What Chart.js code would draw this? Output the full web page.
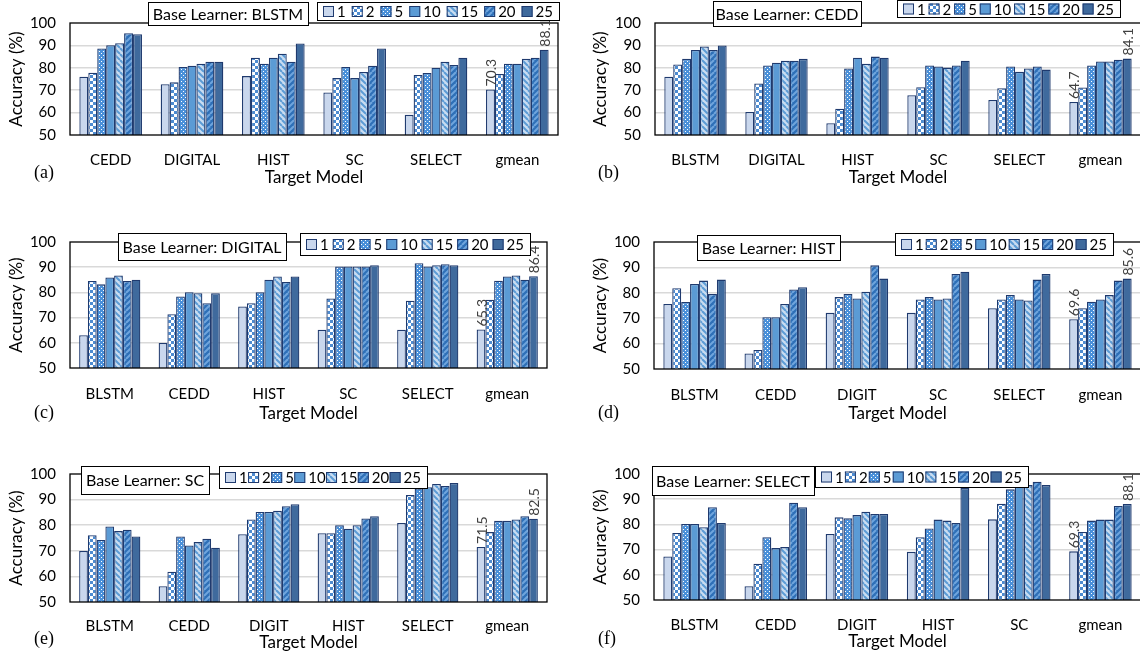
<!DOCTYPE html>
<html>
<head>
<meta charset="utf-8">
<script src="https://cdn.jsdelivr.net/npm/chart.js@4.4.1/dist/chart.umd.min.js"></script>
<style>
  body { margin: 0; width: 1140px; height: 655px; overflow: hidden; background: #fff; position: relative; }
  canvas { position: absolute; }
  .tag { position: absolute; font-family: "Liberation Serif", serif; font-size: 18px; color: #000; line-height: 20px; }
</style>
</head>
<body>
<canvas id="ca"></canvas><canvas id="cb"></canvas><canvas id="cc"></canvas>
<canvas id="cd"></canvas><canvas id="ce"></canvas><canvas id="cf"></canvas>
<div class="tag" style="left:34px;top:162px">(a)</div>
<div class="tag" style="left:598px;top:162px">(b)</div>
<div class="tag" style="left:34px;top:402px">(c)</div>
<div class="tag" style="left:598px;top:402px">(d)</div>
<div class="tag" style="left:34px;top:628px">(e)</div>
<div class="tag" style="left:598px;top:628px">(f)</div>
<script>
// ensemble sizes (one bar each)
const sizes = ["1", "2", "5", "10", "15", "20", "25"];

// each row = one target model, values for sizes 1..25
const catsA = ["CEDD", "DIGITAL", "HIST", "SC", "SELECT", "gmean"];
const accA = [
    [76.0, 77.8, 88.6, 90.1, 91.0, 95.4, 95.0],
    [72.7, 73.5, 80.4, 80.9, 81.8, 82.7, 82.7],
    [76.3, 84.5, 81.8, 84.5, 86.3, 82.7, 90.9],
    [69.0, 75.4, 80.4, 75.4, 78.1, 80.9, 88.6],
    [59.0, 76.8, 77.7, 80.0, 82.7, 81.3, 84.5],
    [70.3, 77.2, 81.8, 81.8, 84.0, 84.5, 88.1]
];

const catsB = ["BLSTM", "DIGITAL", "HIST", "SC", "SELECT", "gmean"];
const accB = [
    [76.0, 81.5, 84.0, 88.0, 89.5, 88.0, 90.0],
    [60.3, 73.0, 81.0, 82.3, 83.2, 83.2, 84.0],
    [55.3, 61.7, 79.7, 84.5, 81.8, 85.0, 84.5],
    [67.8, 71.3, 81.0, 80.6, 80.1, 81.0, 83.2],
    [65.6, 70.9, 80.6, 78.2, 79.7, 80.6, 79.2],
    [64.7, 71.2, 81.0, 82.8, 82.8, 83.6, 84.1]
];

const catsC = ["BLSTM", "CEDD", "HIST", "SC", "SELECT", "gmean"];
const accC = [
    [63.0, 84.5, 83.2, 85.9, 86.7, 84.5, 85.0],
    [59.9, 71.3, 78.4, 80.1, 79.7, 75.7, 79.7],
    [74.4, 75.7, 80.1, 85.0, 86.3, 84.1, 86.3],
    [65.2, 77.6, 90.3, 90.3, 90.3, 90.3, 90.8],
    [65.2, 76.7, 91.6, 90.3, 90.8, 91.2, 90.8],
    [65.3, 77.1, 84.6, 86.3, 86.7, 85.0, 86.4]
];

const catsD = ["BLSTM", "CEDD", "DIGIT", "SC", "SELECT", "gmean"];
const accD = [
    [75.6, 81.8, 76.4, 83.5, 84.8, 79.5, 85.2],
    [56.1, 57.5, 70.4, 70.4, 75.6, 81.3, 82.2],
    [72.1, 78.3, 79.5, 77.8, 80.4, 90.8, 85.6],
    [72.1, 77.4, 78.3, 77.4, 77.8, 87.4, 88.3],
    [73.9, 77.4, 79.1, 77.4, 77.0, 85.2, 87.4],
    [69.6, 73.9, 76.5, 77.4, 79.1, 84.8, 85.6]
];

const catsE = ["BLSTM", "CEDD", "DIGIT", "HIST", "SELECT", "gmean"];
const accE = [
    [69.9, 76.1, 74.2, 79.5, 77.7, 78.2, 75.6],
    [56.2, 61.8, 75.6, 72.1, 73.4, 74.7, 71.2],
    [76.5, 82.2, 85.2, 85.2, 85.6, 87.4, 88.2],
    [76.9, 76.9, 80.0, 78.6, 80.0, 82.6, 83.5],
    [80.9, 91.8, 94.4, 94.8, 96.1, 95.3, 96.5],
    [71.5, 77.3, 81.7, 81.7, 82.2, 83.5, 82.5]
];

const catsF = ["BLSTM", "CEDD", "DIGIT", "HIST", "SC", "gmean"];
const accF = [
    [67.3, 76.6, 80.2, 80.2, 78.9, 86.8, 80.6],
    [55.5, 64.4, 74.9, 70.6, 71.0, 88.6, 86.8],
    [76.2, 82.8, 82.4, 83.7, 85.0, 84.1, 84.1],
    [69.1, 74.9, 78.4, 81.9, 81.5, 80.6, 94.4],
    [82.0, 88.2, 93.9, 95.6, 95.6, 96.9, 95.6],
    [69.3, 77.0, 81.5, 81.9, 81.9, 87.3, 88.1]
];

const yTicks = [50, 60, 70, 80, 90, 100];

// page layout: canvas box, plot area (left, right, top, bottom), label padding, title y, legend boxes
const panels = [
    { id: "ca", learner: "BLSTM", cats: catsA, acc: accA, box: [0, 0, 570, 190],
      area: [70, 558, 12, 135], labelPad: 8, titleY: 178, yTitleX: 17, bl: [148, 2, 160, 23], lg: [317, 2, 242, 18] },
    { id: "cb", learner: "CEDD", cats: catsB, acc: accB, box: [570, 0, 572, 190],
      area: [655, 1141, 9, 135], labelPad: 8, titleY: 178, yTitleX: 601, bl: [713, 1, 148, 25], lg: [897, 0, 223, 17] },
    { id: "cc", learner: "DIGITAL", cats: catsC, acc: accC, box: [0, 215, 570, 210],
      area: [70, 547, 242, 368], labelPad: 9, titleY: 414, yTitleX: 17, bl: [118, 233, 168, 27], lg: [300, 233, 230, 22] },
    { id: "cd", learner: "HIST", cats: catsD, acc: accD, box: [570, 215, 572, 210],
      area: [654, 1141, 242, 369], labelPad: 9, titleY: 414, yTitleX: 601, bl: [697, 235, 143, 25], lg: [895, 233, 218, 22] },
    { id: "ce", learner: "SC", cats: catsE, acc: accE, box: [0, 440, 570, 215],
      area: [70, 547, 474, 602], labelPad: 7, titleY: 643, yTitleX: 17, bl: [81, 466, 128, 28], lg: [219, 466, 208, 22] },
    { id: "cf", learner: "SELECT", cats: catsF, acc: accF, box: [570, 440, 572, 215],
      area: [654, 1141, 474, 600], labelPad: 8, titleY: 642, yTitleX: 601, bl: [652, 466, 162, 29], lg: [815, 466, 213, 21] }
];

function tile(size, draw) {
    const c = document.createElement("canvas");
    c.width = c.height = size;
    const g = c.getContext("2d");
    draw(g, size);
    return g.createPattern(c, "repeat");
}

function stripes(bg, fg, up) {
    return (g, s) => {
        g.fillStyle = bg;
        g.fillRect(0, 0, s, s);
        g.strokeStyle = fg;
        g.lineWidth = 2;
        for (let i = -s; i <= s; i += s) {
            g.beginPath();
            if (up) { g.moveTo(i, s); g.lineTo(i + s, 0); }
            else { g.moveTo(i, 0); g.lineTo(i + s, s); }
            g.stroke();
        }
    };
}

const fills = [
    "#c9d7ed",
    tile(6, (g, s) => {
        g.fillStyle = "#4d8bd0"; g.fillRect(0, 0, s, s);
        g.fillStyle = "#fff"; g.fillRect(0, 0, 3, 3); g.fillRect(3, 3, 3, 3);
    }),
    tile(4, (g, s) => {
        g.fillStyle = "#4a90d9"; g.fillRect(0, 0, s, s);
        g.fillStyle = "#fff"; g.fillRect(1, 1, 1, 1); g.fillRect(3, 3, 1, 1);
    }),
    "#5b9bd5",
    tile(6, stripes("#c9dcf1", "#5b9bd5", false)),
    tile(6, stripes("#2e6fb7", "#6fa5dd", true)),
    "#3f6a9d"
];
const edge = "#1f3a6e";

const frame = {
    id: "frame",
    afterDatasetsDraw(chart) {
        const a = chart.chartArea, ctx = chart.ctx;
        ctx.save();
        ctx.strokeStyle = "#000";
        ctx.lineWidth = 1.3;
        ctx.strokeRect(a.left, a.top, a.right - a.left, a.bottom - a.top);
        ctx.restore();
    }
};

// value labels on the first and last bar of the gmean group
const endLabels = {
    id: "endLabels",
    afterDatasetsDraw(chart) {
        const ctx = chart.ctx;
        const last = chart.data.labels.length - 1;
        [0, chart.data.datasets.length - 1].forEach(di => {
            const bar = chart.getDatasetMeta(di).data[last];
            const v = chart.data.datasets[di].data[last];
            ctx.save();
            ctx.translate(bar.x, bar.y - 3);
            ctx.rotate(-Math.PI / 2);
            ctx.font = "14px Lato";
            ctx.fillStyle = "#404040";
            ctx.textAlign = "left";
            ctx.textBaseline = "middle";
            ctx.fillText(v.toFixed(1), 0, 1);
            ctx.restore();
        });
    }
};

const boxes = {
    id: "boxes",
    afterDraw(chart, args, opts) {
        const ctx = chart.ctx;
        // base learner box
        let [x, y, w, h] = opts.bl;
        ctx.save();
        ctx.fillStyle = "#fff";
        ctx.fillRect(x, y, w, h);
        ctx.strokeStyle = "#000";
        ctx.lineWidth = 1;
        ctx.strokeRect(x + 0.5, y + 0.5, w, h);
        ctx.font = "16px Lato";
        ctx.fillStyle = "#000";
        ctx.textAlign = "center";
        ctx.textBaseline = "middle";
        ctx.fillText("Base Learner: " + opts.learner, x + w / 2, y + h / 2 + 1);

        // series legend
        [x, y, w, h] = opts.lg;
        ctx.font = "15px Lato";
        ctx.fillStyle = "#fff";
        ctx.fillRect(x, y, w, h);
        ctx.strokeRect(x + 0.5, y + 0.5, w, h);
        const ds = chart.data.datasets;
        const sw = 11, gap = 3, pad = 6;
        const widths = ds.map(d => sw + gap + ctx.measureText(d.label).width);
        const total = widths.reduce((s, v) => s + v, 0);
        const space = (w - 2 * pad - total) / (ds.length - 1);
        let cx = x + pad;
        const cy = y + h / 2 + 0.5;
        ctx.textAlign = "left";
        ds.forEach((d, i) => {
            ctx.fillStyle = d.backgroundColor;
            ctx.fillRect(cx, cy - sw / 2, sw, sw);
            ctx.strokeStyle = edge;
            ctx.strokeRect(cx + 0.5, cy - sw / 2 + 0.5, sw - 1, sw - 1);
            ctx.fillStyle = "#000";
            ctx.fillText(d.label, cx + sw + gap, cy + 1);
            cx += widths[i] + space;
        });
        ctx.restore();
    }
};

function drawPanel(p) {
    const [bx, by, bw, bh] = p.box;
    const [L, R, T, B] = p.area;
    const cv = document.getElementById(p.id);
    cv.width = bw;
    cv.height = bh;
    cv.style.left = bx + "px";
    cv.style.top = by + "px";

    const datasets = sizes.map((s, i) => ({
        label: s,
        data: p.acc.map(row => row[i]),
        backgroundColor: fills[i],
        borderColor: edge,
        borderWidth: 1.3,
        categoryPercentage: 0.77,
        barPercentage: 1.0
    }));

    new Chart(cv.getContext("2d"), {
        type: "bar",
        data: { labels: p.cats, datasets: datasets },
        options: {
            responsive: false,
            animation: false,
            events: [],
            layout: { padding: { top: T - by, right: bx + bw - R, left: 0, bottom: 0 } },
            plugins: {
                legend: { display: false },
                tooltip: { enabled: false },
                boxes: {
                    learner: p.learner,
                    bl: [p.bl[0] - bx, p.bl[1] - by, p.bl[2], p.bl[3]],
                    lg: [p.lg[0] - bx, p.lg[1] - by, p.lg[2], p.lg[3]]
                }
            },
            scales: {
                x: {
                    grid: { display: false },
                    border: { display: false },
                    ticks: { color: "#000", font: { family: "Lato", size: 15 }, padding: p.labelPad },
                    title: {
                        display: true, text: "Target Model", color: "#000",
                        font: { family: "Lato", size: 17 },
                        padding: { top: 0, bottom: by + bh - p.titleY - 10.2 }
                    },
                    afterFit(s) { s.height = by + bh - B; }
                },
                y: {
                    min: yTicks[0],
                    max: yTicks[yTicks.length - 1],
                    afterBuildTicks(s) { s.ticks = yTicks.map(v => ({ value: v })); },
                    grid: {
                        drawTicks: false,
                        lineWidth: 1.5,
                        color: c => (c.tick.value > 50 && c.tick.value < 100) ? "#d9d9d9" : "rgba(0,0,0,0)"
                    },
                    border: { display: false },
                    ticks: { color: "#000", font: { family: "Lato", size: 15 }, padding: 14 },
                    title: {
                        display: true, text: "Accuracy (%)", color: "#000",
                        font: { family: "Lato", size: 17 },
                        padding: { top: p.yTitleX - bx - 10.2, bottom: 0 }
                    },
                    afterFit(s) { s.width = L - bx; }
                }
            }
        },
        plugins: [frame, endLabels, boxes]
    });
}

document.fonts.load("15px Lato").then(() => panels.forEach(drawPanel));
</script>
</body>
</html>
